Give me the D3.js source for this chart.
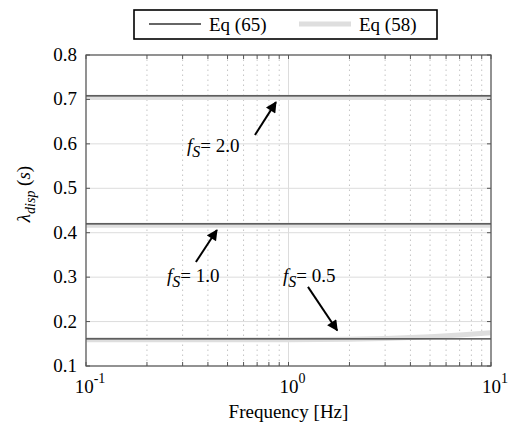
<!DOCTYPE html>
<meta charset="utf-8">
<style>
body { margin: 0; background: #fff; }
</style>
<body>
<script src="https://d3js.org/d3.v7.min.js"></script>
<script>

const width = 510,
    height = 424

// frequency points (Hz)
const freq = [0.1, 0.2, 0.3, 0.5, 0.7, 1, 2, 3, 5, 7, 10]

// Eq (65) — thin dark line
const eq65 = [
    { fs: '2.0', values: [0.708, 0.708, 0.708, 0.708, 0.708, 0.708, 0.708, 0.708, 0.708, 0.708, 0.708] },
    { fs: '1.0', values: [0.420, 0.420, 0.420, 0.420, 0.420, 0.420, 0.420, 0.420, 0.420, 0.420, 0.420] },
    { fs: '0.5', values: [0.161, 0.161, 0.161, 0.161, 0.161, 0.161, 0.161, 0.161, 0.161, 0.161, 0.161] }
]

// Eq (58) — thick light band
const eq58 = [
    { fs: '2.0', values: [0.705, 0.705, 0.705, 0.705, 0.705, 0.705, 0.705, 0.705, 0.705, 0.705, 0.705] },
    { fs: '1.0', values: [0.417, 0.417, 0.417, 0.417, 0.417, 0.417, 0.417, 0.417, 0.417, 0.417, 0.417] },
    { fs: '0.5', values: [0.159, 0.159, 0.159, 0.159, 0.159, 0.159, 0.160, 0.162, 0.166, 0.170, 0.175] }
]

const yTicks = [0.1, 0.2, 0.3, 0.4, 0.5, 0.6, 0.7, 0.8]
const xTicks = [0.1, 1, 10]
const xTickLabels = ['-1', '0', '1']
const legendLabels = ['Eq (65)', 'Eq (58)']

// annotations: label, text anchor, arrow tail and head in data units
const notes = [
    { fs: '2.0', text: [0.315, 0.582], tail: [0.683, 0.620], head: [0.867, 0.694] },
    { fs: '1.0', text: [0.251, 0.289], tail: [0.349, 0.334], head: [0.443, 0.406] },
    { fs: '0.5', text: [0.939, 0.289], tail: [1.248, 0.278], head: [1.74, 0.180] }
]

const serif = '"Liberation Serif"'

const x = d3.scaleLog().domain([0.1, 10]).range([86, 491])
const y = d3.scaleLinear().domain([0.1, 0.8]).range([366, 55])

const svg = d3.select('body').append('svg')
    .attr('width', width)
    .attr('height', height)

svg.append('defs').append('marker')
    .attr('id', 'head')
    .attr('viewBox', '0 0 10 10')
    .attr('refX', 9).attr('refY', 5)
    .attr('markerWidth', 6.5).attr('markerHeight', 5.5)
    .attr('markerUnits', 'strokeWidth')
    .attr('orient', 'auto')
    .append('path').attr('d', 'M0,0 L10,5 L0,10 Z').attr('fill', '#000')

// grid
const minor = []
for (const dec of [0.1, 1]) for (let k = 2; k <= 9; k++) minor.push(dec * k)

svg.append('g').selectAll('line').data(minor).enter().append('line')
    .attr('x1', d => x(d)).attr('x2', d => x(d))
    .attr('y1', y(0.1)).attr('y2', y(0.8))
    .attr('stroke', '#c4c4c4').attr('stroke-dasharray', '1.5,3.5')

svg.append('g').selectAll('line').data(xTicks).enter().append('line')
    .attr('x1', d => x(d)).attr('x2', d => x(d))
    .attr('y1', y(0.1)).attr('y2', y(0.8))
    .attr('stroke', '#dcdcdc')

svg.append('g').selectAll('line').data(yTicks).enter().append('line')
    .attr('x1', x(0.1)).attr('x2', x(10))
    .attr('y1', d => y(d)).attr('y2', d => y(d))
    .attr('stroke', '#dcdcdc')

// series
const line = d3.line()
    .x((d, i) => x(freq[i]))
    .y(d => y(d))

svg.append('g').selectAll('path').data(eq58).enter().append('path')
    .attr('d', d => line(d.values))
    .attr('fill', 'none').attr('stroke', '#dedede').attr('stroke-width', 5)

svg.append('g').selectAll('path').data(eq65).enter().append('path')
    .attr('d', d => line(d.values))
    .attr('fill', 'none').attr('stroke', '#333').attr('stroke-width', 1.3)

// frame + ticks
svg.append('rect')
    .attr('x', x(0.1)).attr('y', y(0.8))
    .attr('width', x(10) - x(0.1)).attr('height', y(0.1) - y(0.8))
    .attr('fill', 'none').attr('stroke', '#555').attr('stroke-width', 1.2)

const allX = xTicks.concat(minor)
const tk = svg.append('g').attr('stroke', '#555')
allX.forEach(d => {
    tk.append('line').attr('x1', x(d)).attr('x2', x(d)).attr('y1', y(0.1)).attr('y2', y(0.1) - 4)
    tk.append('line').attr('x1', x(d)).attr('x2', x(d)).attr('y1', y(0.8)).attr('y2', y(0.8) + 4)
})
yTicks.forEach(d => {
    tk.append('line').attr('x1', x(0.1)).attr('x2', x(0.1) + 4).attr('y1', y(d)).attr('y2', y(d))
    tk.append('line').attr('x1', x(10)).attr('x2', x(10) - 4).attr('y1', y(d)).attr('y2', y(d))
})

function label(sel) {
    return sel.style('font-family', serif).style('font-size', '19px').style('fill', '#000')
}

// tick labels
svg.append('g').selectAll('text').data(yTicks).enter().append('text')
    .call(label)
    .attr('x', x(0.1) - 9).attr('y', d => y(d) + 6)
    .attr('text-anchor', 'end')
    .text(d => d.toFixed(1))

xTicks.forEach((d, i) => {
    const t = svg.append('text').call(label)
        .attr('x', x(d) + 4).attr('y', 393)
        .attr('text-anchor', 'middle')
    t.append('tspan').text('10')
    t.append('tspan').attr('dy', -10).style('font-size', '14px').text(xTickLabels[i])
})

svg.append('text').call(label)
    .attr('x', x(1)).attr('y', 418)
    .attr('text-anchor', 'middle')
    .text('Frequency [Hz]')

const yl = svg.append('text').call(label)
    .attr('transform', 'translate(30,194) rotate(-90)')
    .attr('text-anchor', 'middle')
yl.append('tspan').style('font-style', 'italic').text('λ')
yl.append('tspan').attr('dy', 5).style('font-style', 'italic').style('font-size', '14px').text('disp')
yl.append('tspan').attr('dy', -5).text(' (')
yl.append('tspan').style('font-style', 'italic').text('s')
yl.append('tspan').text(')')

// annotations
notes.forEach(n => {
    const t = svg.append('text').call(label)
        .attr('x', x(n.text[0])).attr('y', y(n.text[1]))
    t.append('tspan').style('font-style', 'italic').text('f')
    t.append('tspan').attr('dy', 5).style('font-style', 'italic').style('font-size', '16px').text('S')
    t.append('tspan').attr('dy', -5).text('= ' + n.fs)

    svg.append('line')
        .attr('x1', x(n.tail[0])).attr('y1', y(n.tail[1]))
        .attr('x2', x(n.head[0])).attr('y2', y(n.head[1]))
        .attr('stroke', '#000').attr('stroke-width', 2)
        .attr('marker-end', 'url(#head)')
})

// legend
const lg = svg.append('g')
lg.append('rect')
    .attr('x', 134).attr('y', 10).attr('width', 303).attr('height', 29)
    .attr('fill', '#fff').attr('stroke', '#000').attr('stroke-width', 1.6)
lg.append('line').attr('x1', 149).attr('x2', 201).attr('y1', 24).attr('y2', 24)
    .attr('stroke', '#333').attr('stroke-width', 1.3)
lg.append('line').attr('x1', 299).attr('x2', 351).attr('y1', 24).attr('y2', 24)
    .attr('stroke', '#dedede').attr('stroke-width', 5)
lg.selectAll('text').data(legendLabels).enter().append('text')
    .call(label)
    .attr('x', (d, i) => i ? 359 : 209).attr('y', 31)
    .text(d => d)

</script>
</body>
